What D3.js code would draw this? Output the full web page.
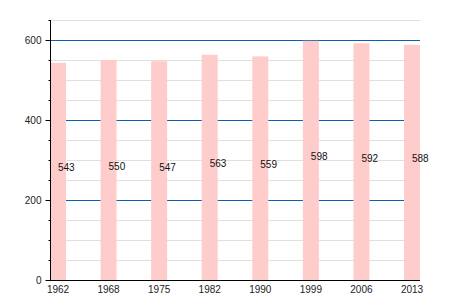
<!DOCTYPE html>
<html><head><meta charset="utf-8">
<script src="https://cdn.jsdelivr.net/npm/d3@7"></script>
<style>body{margin:0;background:#fff}text{font-family:"Liberation Sans",Arial,sans-serif}</style>
</head><body><svg id="c" width="450" height="300"></svg>
<script>
const years = ["1962","1968","1975","1982","1990","1999","2006","2013"];
const values = [543,550,547,563,559,598,592,588];
const majorTicks = [0,200,400,600];
const minorTicks = [50,100,150,250,300,350,450,500,550,650];

const svg = d3.select("#c");
const x0 = 50, x1 = 420, yTop = 20, yBot = 280, barW = 16;
const y = d3.scaleLinear().domain([0,650]).range([yBot,yTop]);
const x = d3.scalePoint().domain(years).range([x0, x1 - barW]);

// minor grid
svg.selectAll(".mg").data(minorTicks).join("line")
  .attr("x1",x0).attr("x2",x1).attr("y1",d=>Math.round(y(d))+0.5).attr("y2",d=>Math.round(y(d))+0.5)
  .attr("stroke","#e0e0e0").attr("stroke-width",1);
// major grid
svg.selectAll(".Mg").data(majorTicks.filter(d=>d>0)).join("line")
  .attr("x1",x0).attr("x2",x1).attr("y1",d=>Math.round(y(d))+0.5).attr("y2",d=>Math.round(y(d))+0.5)
  .attr("stroke","#0d5fb5").attr("stroke-width",1);

// bars
svg.selectAll(".bar").data(values).join("rect")
  .attr("x",(d,i)=>x(years[i])).attr("width",barW)
  .attr("y",d=>y(d)).attr("height",d=>yBot-y(d)).attr("fill","#ffcccc");

// value labels
svg.selectAll(".vl").data(values).join("text")
  .attr("x",(d,i)=>x(years[i])+barW/2).attr("y",d=>(y(d)+yBot)/2)
  .attr("font-size",10).attr("fill","#111").text(d=>d);

// y axis
const yAxis = d3.axisLeft(y).tickValues(majorTicks).tickSize(5).tickPadding(4);
const ga = svg.append("g").attr("transform",`translate(${x0+0.5},0)`).call(yAxis);
ga.select(".domain").remove();
ga.selectAll("text").attr("font-size",10).attr("fill","#222").attr("font-family","Liberation Sans, Arial, sans-serif");
ga.selectAll("line").attr("stroke","#000");
svg.append("g").attr("transform",`translate(${x0+0.5},0)`).selectAll("line").data(minorTicks).join("line")
  .attr("x1",-2).attr("x2",0).attr("y1",d=>Math.round(y(d))+0.5).attr("y2",d=>Math.round(y(d))+0.5).attr("stroke","#000");
svg.append("line").attr("x1",x0+0.5).attr("x2",x0+0.5).attr("y1",yTop).attr("y2",yBot+1).attr("stroke","#000");
// x axis
svg.append("line").attr("x1",x0).attr("x2",x1).attr("y1",yBot+0.5).attr("y2",yBot+0.5).attr("stroke","#000");
svg.selectAll(".xl").data(years).join("text")
  .attr("x",d=>x(d)+barW/2).attr("y",yBot+13).attr("text-anchor","middle")
  .attr("font-size",10).attr("fill","#222").text(d=>d);
</script></body></html>
